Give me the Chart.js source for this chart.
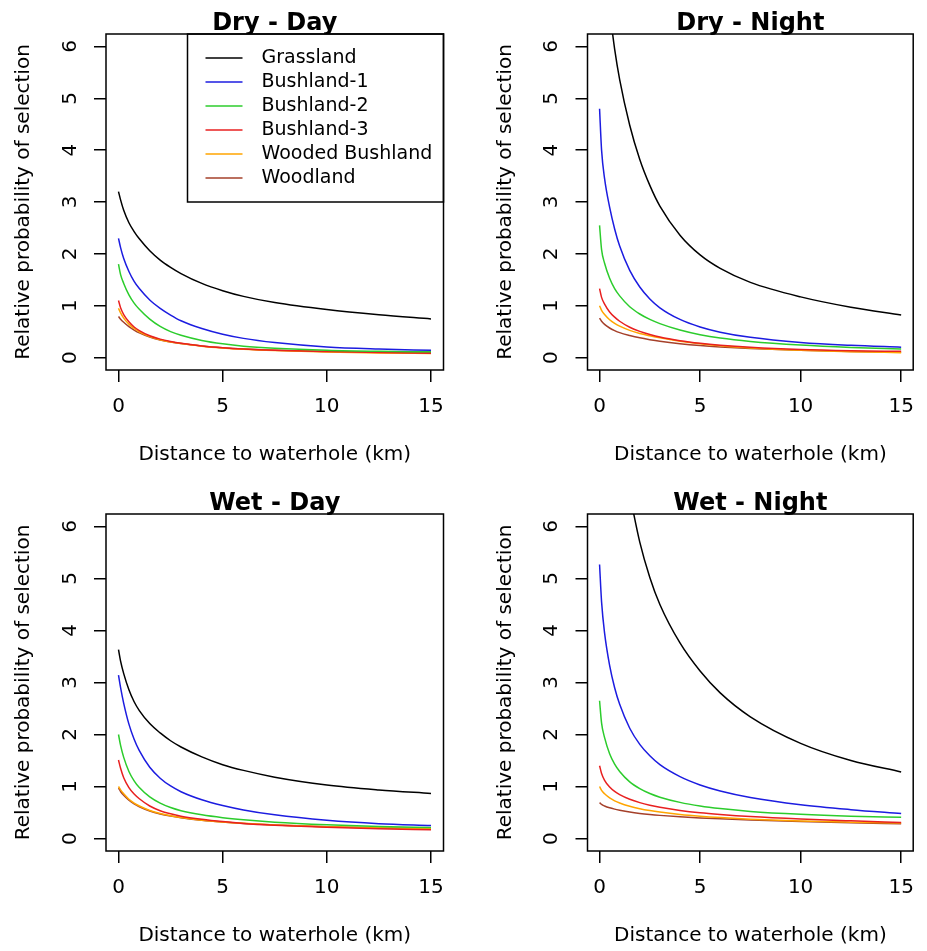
<!DOCTYPE html>
<html>
<head>
<meta charset="utf-8">
<script src="https://cdn.jsdelivr.net/npm/chart.js@4.4.1/dist/chart.umd.min.js"></script>
<style>
  html, body { margin: 0; padding: 0; background: #ffffff; overflow: hidden; width: 927px; height: 951px; }
  canvas { position: absolute; display: block; }
</style>
</head>
<body>
<canvas id="c0" width="463" height="470" style="left:0px;top:0px;width:463px;height:470px"></canvas>
<canvas id="c1" width="464" height="470" style="left:463px;top:0px;width:464px;height:470px"></canvas>
<canvas id="c2" width="463" height="481" style="left:0px;top:470px;width:463px;height:481px"></canvas>
<canvas id="c3" width="464" height="481" style="left:463px;top:470px;width:464px;height:481px"></canvas>
<script>
// ---------------- data ----------------
const distanceKm = [0, 0.1, 0.25, 0.5, 0.75, 1, 1.5, 2, 2.5, 3, 4, 5, 6, 7.5, 10, 12.5, 15];

const habitats = ['Grassland', 'Bushland-1', 'Bushland-2', 'Bushland-3', 'Wooded Bushland', 'Woodland'];
const habitatColors = ['#000000', '#1c1ce0', '#2ccc2c', '#e82020', '#ffa500', '#a5402a'];

const panelTitles = ['Dry - Day', 'Dry - Night', 'Wet - Day', 'Wet - Night'];
const xTickValues = [0, 5, 10, 15];
const yTickValues = [0, 1, 2, 3, 4, 5, 6];
const xAxisLabel = 'Distance to waterhole (km)';
const yAxisLabel = 'Relative probability of selection';

// Dry - Day
const dryDayGrassland = [3.2, 3.04, 2.84, 2.6, 2.43, 2.29, 2.06, 1.88, 1.74, 1.62, 1.43, 1.29, 1.18, 1.06, 0.925, 0.825, 0.745];
const dryDayBushland1 = [2.3, 2.12, 1.91, 1.66, 1.47, 1.33, 1.11, 0.95, 0.82, 0.71, 0.56, 0.45, 0.37, 0.29, 0.205, 0.165, 0.14];
const dryDayBushland2 = [1.8, 1.6, 1.43, 1.21, 1.05, 0.93, 0.74, 0.60, 0.50, 0.43, 0.33, 0.265, 0.22, 0.18, 0.14, 0.12, 0.11];
const dryDayBushland3 = [1.1, 0.96, 0.83, 0.69, 0.59, 0.52, 0.42, 0.355, 0.31, 0.275, 0.225, 0.19, 0.165, 0.14, 0.115, 0.097, 0.085];
const dryDayWoodedBushland = [0.95, 0.86, 0.76, 0.645, 0.56, 0.495, 0.405, 0.345, 0.30, 0.27, 0.22, 0.185, 0.16, 0.135, 0.108, 0.09, 0.08];
const dryDayWoodland = [0.79, 0.74, 0.68, 0.595, 0.53, 0.475, 0.395, 0.34, 0.30, 0.27, 0.225, 0.19, 0.165, 0.142, 0.117, 0.103, 0.095];

// Dry - Night (Grassland leaves the top of the plot near 0.65 km)
const dryNightGrassland = [null, null, null, 6.7, 5.95, 5.36, 4.48, 3.82, 3.32, 2.92, 2.36, 1.98, 1.72, 1.45, 1.17, 0.97, 0.82];
const dryNightBushland1 = [4.8, 4.0, 3.45, 2.9, 2.48, 2.15, 1.68, 1.36, 1.13, 0.96, 0.735, 0.59, 0.49, 0.39, 0.29, 0.235, 0.20];
const dryNightBushland2 = [2.55, 2.08, 1.82, 1.53, 1.33, 1.19, 0.98, 0.84, 0.735, 0.655, 0.53, 0.44, 0.375, 0.31, 0.24, 0.195, 0.165];
const dryNightBushland3 = [1.33, 1.16, 1.03, 0.88, 0.78, 0.70, 0.585, 0.505, 0.445, 0.395, 0.325, 0.275, 0.238, 0.198, 0.155, 0.132, 0.12];
const dryNightWoodedBushland = [1.0, 0.91, 0.83, 0.73, 0.66, 0.605, 0.525, 0.465, 0.42, 0.38, 0.315, 0.265, 0.228, 0.185, 0.14, 0.112, 0.095];
const dryNightWoodland = [0.76, 0.70, 0.64, 0.57, 0.52, 0.48, 0.425, 0.38, 0.345, 0.315, 0.268, 0.232, 0.205, 0.174, 0.14, 0.117, 0.10];

// Wet - Day
const wetDayGrassland = [3.63, 3.41, 3.17, 2.86, 2.63, 2.46, 2.21, 2.03, 1.88, 1.76, 1.57, 1.42, 1.31, 1.18, 1.03, 0.935, 0.865];
const wetDayBushland1 = [3.14, 2.9, 2.6, 2.2, 1.91, 1.69, 1.37, 1.16, 1.01, 0.90, 0.745, 0.635, 0.55, 0.455, 0.35, 0.285, 0.25];
const wetDayBushland2 = [2.0, 1.79, 1.56, 1.29, 1.11, 0.98, 0.80, 0.68, 0.595, 0.535, 0.455, 0.40, 0.36, 0.315, 0.265, 0.23, 0.21];
const wetDayBushland3 = [1.51, 1.35, 1.17, 0.98, 0.855, 0.765, 0.625, 0.535, 0.475, 0.43, 0.37, 0.325, 0.29, 0.255, 0.215, 0.188, 0.17];
const wetDayWoodedBushland = [1.0, 0.935, 0.86, 0.755, 0.68, 0.625, 0.54, 0.48, 0.437, 0.403, 0.352, 0.318, 0.292, 0.262, 0.228, 0.205, 0.19];
const wetDayWoodland = [0.97, 0.905, 0.83, 0.735, 0.665, 0.61, 0.53, 0.473, 0.432, 0.40, 0.35, 0.316, 0.29, 0.26, 0.226, 0.202, 0.185];

// Wet - Night (Grassland leaves the top of the plot near 1.7 km)
const wetNightGrassland = [null, null, null, null, null, null, 6.62, 5.7, 5.02, 4.5, 3.76, 3.22, 2.8, 2.34, 1.83, 1.5, 1.28];
const wetNightBushland1 = [5.27, 4.55, 3.95, 3.33, 2.9, 2.58, 2.12, 1.81, 1.59, 1.42, 1.19, 1.03, 0.915, 0.79, 0.65, 0.555, 0.48];
const wetNightBushland2 = [2.65, 2.22, 1.94, 1.63, 1.43, 1.29, 1.09, 0.96, 0.865, 0.795, 0.695, 0.625, 0.575, 0.52, 0.465, 0.43, 0.41];
const wetNightBushland3 = [1.4, 1.25, 1.12, 0.99, 0.905, 0.845, 0.755, 0.69, 0.64, 0.60, 0.54, 0.495, 0.462, 0.422, 0.375, 0.34, 0.31];
const wetNightWoodedBushland = [1.0, 0.925, 0.86, 0.78, 0.725, 0.683, 0.62, 0.573, 0.537, 0.508, 0.462, 0.428, 0.402, 0.372, 0.336, 0.315, 0.30];
const wetNightWoodland = [0.69, 0.655, 0.625, 0.59, 0.565, 0.545, 0.51, 0.483, 0.462, 0.445, 0.418, 0.396, 0.378, 0.356, 0.327, 0.302, 0.283];

const panelSeries = [
  [dryDayGrassland, dryDayBushland1, dryDayBushland2, dryDayBushland3, dryDayWoodedBushland, dryDayWoodland],
  [dryNightGrassland, dryNightBushland1, dryNightBushland2, dryNightBushland3, dryNightWoodedBushland, dryNightWoodland],
  [wetDayGrassland, wetDayBushland1, wetDayBushland2, wetDayBushland3, wetDayWoodedBushland, wetDayWoodland],
  [wetNightGrassland, wetNightBushland1, wetNightBushland2, wetNightBushland3, wetNightWoodedBushland, wetNightWoodland]
];

// ---------------- layout ----------------
const FONT = 'DejaVu Sans';
const FS = 20;       // axis text
const LEG_FS = 19;   // legend text
Chart.defaults.font.family = FONT;
Chart.defaults.color = '#000';

// per panel: y-axis width, top padding, right padding
const panelGeom = [
  { yW: 106,   top: 34, right: 19.5 },
  { yW: 124.5, top: 34, right: 3.5 },
  { yW: 106,   top: 44, right: 19.5 },
  { yW: 124.5, top: 44, right: 3.5 }
];
const X_AXIS_H = 100;

const framePlugin = {
  id: 'frame',
  afterDraw(chart, args, opts) {
    const { ctx, chartArea: a } = chart;
    ctx.save();
    // panel title
    ctx.fillStyle = '#000';
    ctx.font = 'bold 24px "' + FONT + '"';
    ctx.textAlign = 'center';
    ctx.textBaseline = 'alphabetic';
    ctx.fillText(opts.title, (a.left + a.right) / 2, a.top - 4);
    // legend
    if (opts.legend) {
      const w = 256, h = 168;
      const x0 = a.right - w, y0 = a.top;
      ctx.fillStyle = '#fff';
      ctx.fillRect(x0, y0, w, h);
      ctx.strokeStyle = '#000';
      ctx.lineWidth = 1.5;
      ctx.strokeRect(x0, y0, w, h);
      ctx.font = LEG_FS + 'px "' + FONT + '"';
      ctx.textAlign = 'left';
      ctx.textBaseline = 'middle';
      chart.data.datasets.forEach((ds, i) => {
        const yy = y0 + 24 * (i + 1);
        ctx.strokeStyle = ds.borderColor;
        ctx.lineWidth = 1.5;
        ctx.beginPath();
        ctx.moveTo(x0 + 18, yy);
        ctx.lineTo(x0 + 55, yy);
        ctx.stroke();
        ctx.fillStyle = '#000';
        ctx.fillText(ds.label, x0 + 74, yy);
      });
    }
    // plot box
    ctx.strokeStyle = '#000';
    ctx.lineWidth = 1.5;
    ctx.strokeRect(a.left, a.top, a.right - a.left, a.bottom - a.top);
    ctx.restore();
  }
};

function buildPanel(idx) {
  const g = panelGeom[idx];
  const series = panelSeries[idx];
  const yTitleCenter = g.yW - 82;
  return new Chart(document.getElementById('c' + idx), {
    type: 'line',
    data: {
      datasets: habitats.map((name, i) => ({
        label: name,
        data: distanceKm.map((d, j) => ({ x: d, y: series[i][j] })),
        borderColor: habitatColors[i],
        borderWidth: 1.5,
        pointRadius: 0,
        fill: false,
        cubicInterpolationMode: 'monotone'
      }))
    },
    options: {
      responsive: false,
      animation: false,
      devicePixelRatio: 1,
      events: [],
      layout: { padding: { top: g.top, right: g.right, left: 0, bottom: 0 } },
      plugins: {
        legend: { display: false },
        tooltip: { enabled: false },
        frame: { title: panelTitles[idx], legend: idx === 0 }
      },
      scales: {
        x: {
          type: 'linear',
          min: -0.6, max: 15.6,
          afterBuildTicks: s => { s.ticks = xTickValues.map(v => ({ value: v })); },
          afterFit: s => { s.height = X_AXIS_H; },
          border: { display: false },
          grid: { display: true, drawOnChartArea: false, drawTicks: true, tickLength: 12, color: '#000', lineWidth: 1.5 },
          ticks: { color: '#000', font: { size: FS }, padding: 13, maxRotation: 0, autoSkip: false, callback: v => String(v) },
          title: { display: true, text: xAxisLabel, color: '#000', font: { size: FS }, padding: { top: 0, bottom: 3 } }
        },
        y: {
          type: 'linear',
          min: -0.24, max: 6.24,
          afterBuildTicks: s => { s.ticks = yTickValues.map(v => ({ value: v })); },
          afterFit: s => { s.width = g.yW; },
          border: { display: false },
          grid: { display: true, drawOnChartArea: false, drawTicks: true, tickLength: 12, color: '#000', lineWidth: 1.5 },
          ticks: { color: '#000', font: { size: FS }, padding: 17, minRotation: 90, maxRotation: 90, crossAlign: 'center', autoSkip: false, callback: v => String(v) },
          title: { display: true, text: yAxisLabel, color: '#000', font: { size: FS }, padding: { top: yTitleCenter - FS * 0.6, bottom: 0 } }
        }
      }
    },
    plugins: [framePlugin]
  });
}

[0, 1, 2, 3].forEach(buildPanel);
</script>
</body>
</html>
